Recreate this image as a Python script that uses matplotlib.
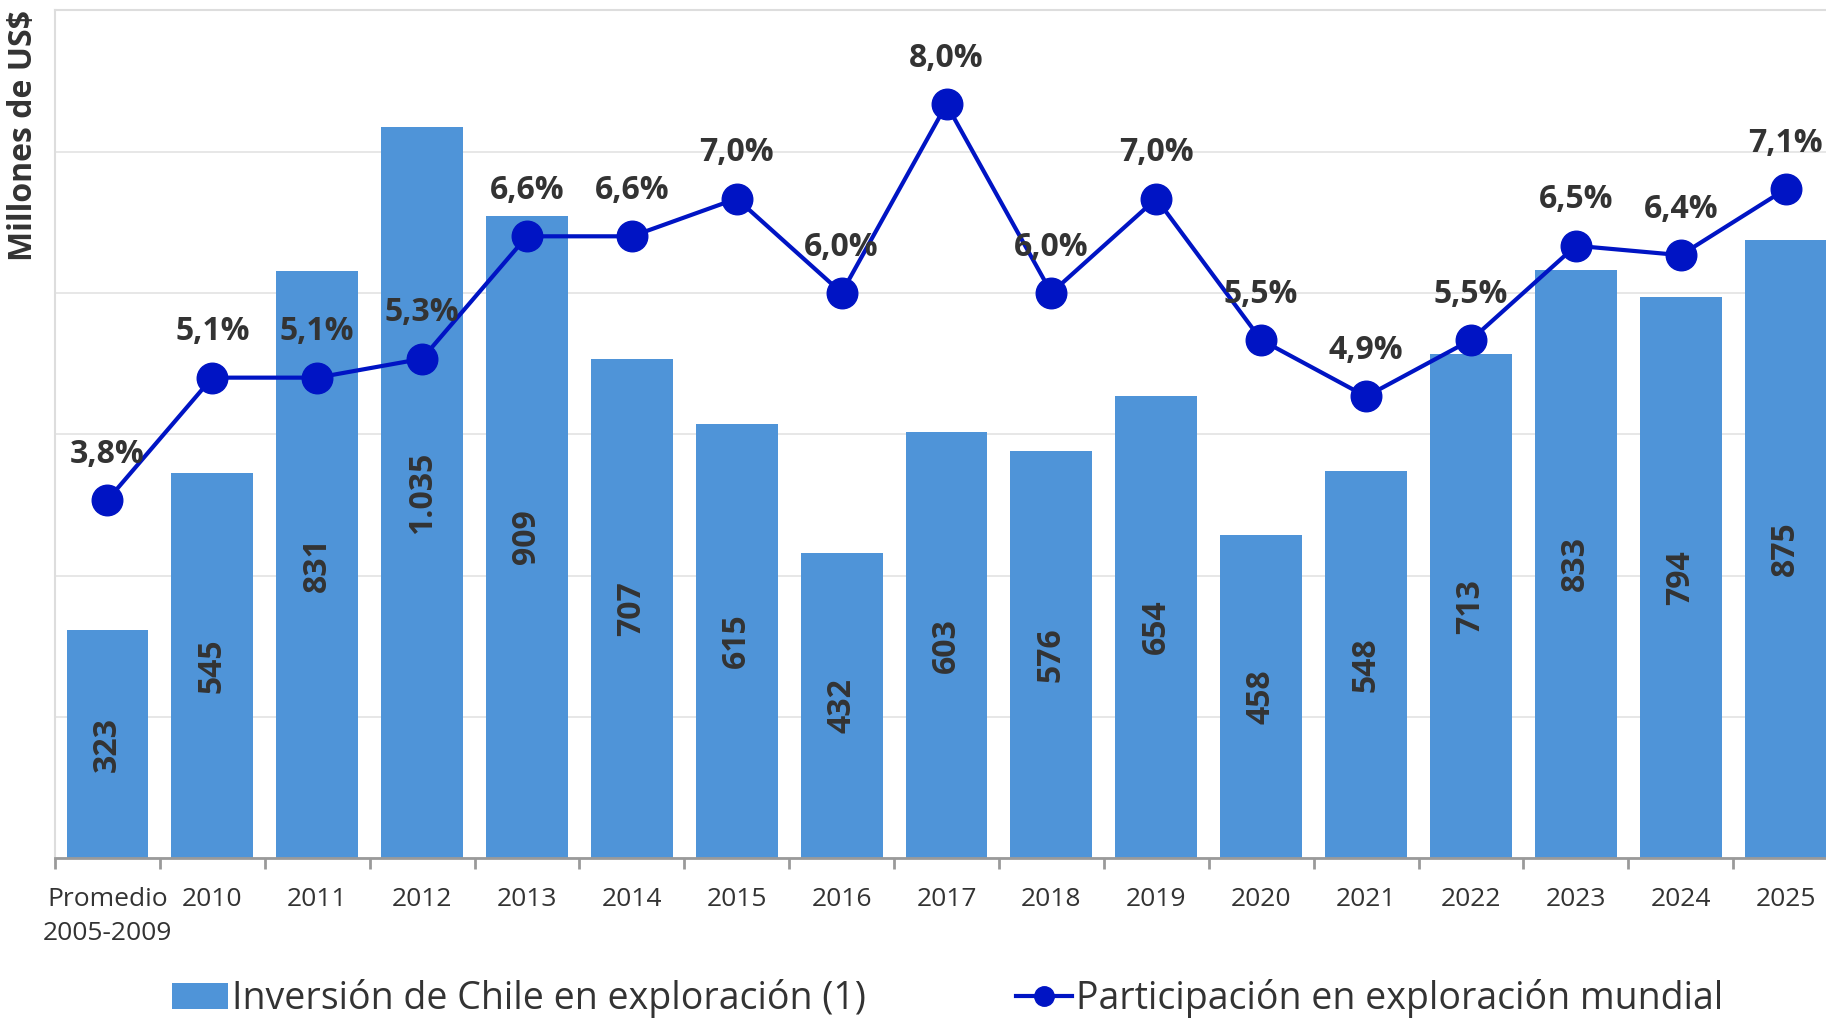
import numpy as np
import matplotlib
matplotlib.use("Agg")
import matplotlib.pyplot as plt
from matplotlib.lines import Line2D
from matplotlib.patches import Patch

plt.rcParams['font.family'] = ['Open Sans', 'DejaVu Sans']

# ----- Data -----
categories = ['Promedio\n2005-2009', '2010', '2011', '2012', '2013', '2014', '2015', '2016',
              '2017', '2018', '2019', '2020', '2021', '2022', '2023', '2024', '2025']
inversion = [323, 545, 831, 1035, 909, 707, 615, 432, 603, 576, 654, 458, 548, 713, 833, 794, 875]
participacion = [3.8, 5.1, 5.1, 5.3, 6.6, 6.6, 7.0, 6.0, 8.0, 6.0, 7.0, 5.5, 4.9, 5.5, 6.5, 6.4, 7.1]

bar_color = '#4f94d8'
line_color = '#0014c4'
text_color = '#333333'

fig = plt.figure(figsize=(18.26, 10.18), dpi=100)
ax1 = fig.add_axes([0.0301, 0.157, 0.9765, 0.833])

x = np.arange(len(categories))
ax1.bar(x, inversion, width=0.78, color=bar_color, zorder=2)

# bar value labels (rotated, centered in bar)
for xi, v in zip(x, inversion):
    lbl = f"{v:,}".replace(",", ".")
    ax1.text(xi, v / 2, lbl, rotation=90, ha='center', va='center',
             fontsize=23, fontweight='bold', color=text_color, zorder=3)

ax1.set_xlim(-0.5, len(categories) - 0.5)
ax1.set_ylim(0, 1200)
ax1.set_yticks(np.arange(0, 1201, 200))
ax1.set_yticklabels([])
ax1.tick_params(axis='y', length=0)
ax1.grid(axis='y', color='#e3e3e3', linewidth=1.2, zorder=0)
ax1.set_axisbelow(True)

ax1.set_xticks(x)
ax1.set_xticklabels(categories, fontsize=19, color=text_color, linespacing=1.45)
ax1.set_xticks(np.arange(-0.5, len(categories), 1), minor=True)
ax1.tick_params(axis='x', which='major', length=0, pad=21)
ax1.tick_params(axis='x', which='minor', length=8, width=2, color='#9a9a9a')

for s in ['left', 'top', 'right']:
    ax1.spines[s].set_color('#dddddd')
    ax1.spines[s].set_linewidth(1.5)
ax1.spines['bottom'].set_color('#9a9a9a')
ax1.spines['bottom'].set_linewidth(2)

# participation line on secondary axis
ax2 = ax1.twinx()
ax2.set_ylim(0, 9)
ax2.set_yticks([])
for s in ax2.spines.values():
    s.set_visible(False)
ax2.plot(x, participacion, color=line_color, linewidth=3, marker='o',
         markersize=22, zorder=4, clip_on=False)
for xi, p in zip(x, participacion):
    ax2.annotate(f"{p:.1f}%".replace(".", ","), (xi, p), xytext=(0, 33),
                 textcoords='offset points', ha='center', va='center',
                 fontsize=23, fontweight='bold', color=text_color, zorder=5)

# y label at top-left
fig.text(0.013, 0.99, 'Millones de US$', rotation=90, ha='center', va='top',
         fontsize=23, fontweight='bold', color=text_color)

# legend
handles = [Patch(facecolor=bar_color, edgecolor='none'),
           Line2D([0], [0], color=line_color, linewidth=3, marker='o', markersize=14)]
labels = ['Inversión de Chile en exploración (1)', 'Participación en exploración mundial']
fig.legend(handles, labels, loc='center', bbox_to_anchor=(0.519, 0.019), ncol=2,
           frameon=False, fontsize=27, handlelength=1.5, handletextpad=0.1,
           columnspacing=4.0, labelcolor=text_color)

fig.savefig('out.png', dpi=100)
